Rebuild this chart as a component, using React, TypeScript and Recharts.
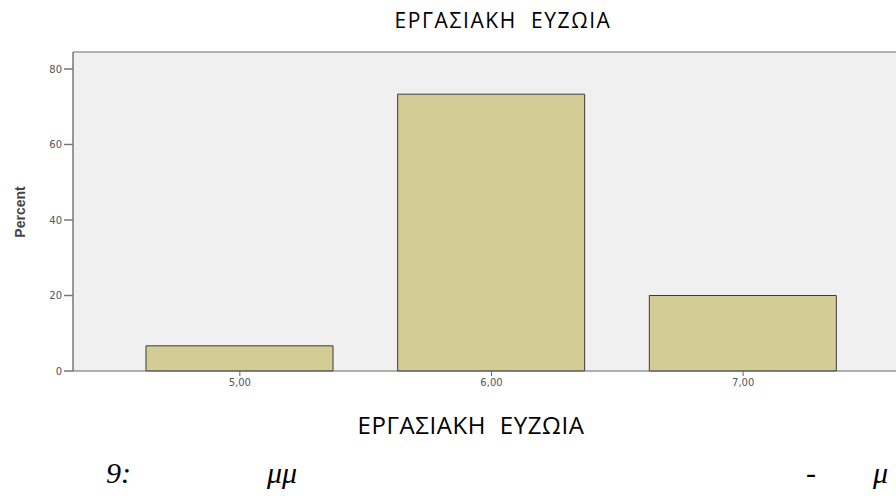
import React from 'react';
import {
  BarChart,
  Bar,
  XAxis,
  YAxis,
  CartesianGrid,
  ReferenceLine,
} from 'recharts';

const categories = ['5,00', '6,00', '7,00'];
const percents = [6.67, 73.33, 20.0];
const yTicks = [0, 20, 40, 60, 80];

const data = categories.map((c, i) => ({ name: c, percent: percents[i] }));

const App: React.FC = () => {
  return (
    <div
      style={{
        position: 'absolute',
        left: 0,
        top: 0,
        width: 896,
        height: 496,
        overflow: 'hidden',
        background: '#fff',
      }}
    >
      <BarChart
        width={920}
        height={496}
        data={data}
        margin={{ top: 52, right: 10, bottom: 95, left: 0 }}
      >
        <CartesianGrid fill="#f0f0f0" horizontal={false} vertical={false} />
        <ReferenceLine y={84.5} stroke="#9a9a9a" strokeWidth={1.5} />
        <XAxis
          dataKey="name"
          padding={{ left: 41, right: 41 }}
          stroke="#666"
          tickSize={5}
          tickMargin={3}
          tick={{ fontSize: 10, fill: '#555', fontFamily: 'DejaVu Sans' }}
        />
        <YAxis
          width={73}
          domain={[0, 84.5]}
          ticks={yTicks}
          stroke="#777"
          strokeWidth={1.5}
          tickSize={9}
          tickMargin={2}
          tick={{ fontSize: 10, fill: '#555', fontFamily: 'DejaVu Sans' }}
        />
        <Bar
          dataKey="percent"
          barSize={187}
          fill="#d3cc95"
          stroke="#3a3a3a"
          strokeWidth={1}
          isAnimationActive={false}
        />
      </BarChart>

      <div
        style={{
          position: 'absolute',
          left: 20,
          top: 212,
          transform: 'translate(-50%, -50%) rotate(-90deg)',
          fontFamily: 'Liberation Sans Narrow, Liberation Sans',
          fontWeight: 'bold',
          fontSize: 14,
          color: '#444',
          whiteSpace: 'nowrap',
          lineHeight: '16px',
        }}
      >
        Percent
      </div>

      <div
        style={{
          position: 'absolute',
          left: 503,
          top: 6,
          transform: 'translateX(-50%)',
          fontFamily: 'Open Sans',
          fontSize: 21,
          letterSpacing: 1.6,
          color: '#000',
          whiteSpace: 'pre',
          lineHeight: '28px',
        }}
      >
        {'ΕΡΓΑΣΙΑΚΗ  ΕΥΖΩΙΑ'}
      </div>

      <div
        style={{
          position: 'absolute',
          left: 471,
          top: 409,
          transform: 'translateX(-50%)',
          fontFamily: 'Open Sans',
          fontSize: 24,
          letterSpacing: 0.6,
          color: '#000',
          whiteSpace: 'pre',
          lineHeight: '32px',
        }}
      >
        {'ΕΡΓΑΣΙΑΚΗ  ΕΥΖΩΙΑ'}
      </div>

      {[
        { t: '9:', x: 106 },
        { t: 'μμ', x: 267 },
        { t: '-', x: 806 },
        { t: 'μ', x: 873 },
      ].map((c) => (
        <div
          key={c.x}
          style={{
            position: 'absolute',
            left: c.x,
            top: 453,
            fontFamily: 'Liberation Serif',
            fontStyle: 'italic',
            fontSize: 30,
            lineHeight: '40px',
            color: '#000',
            whiteSpace: 'pre',
          }}
        >
          {c.t}
        </div>
      ))}
    </div>
  );
};

export default App;
